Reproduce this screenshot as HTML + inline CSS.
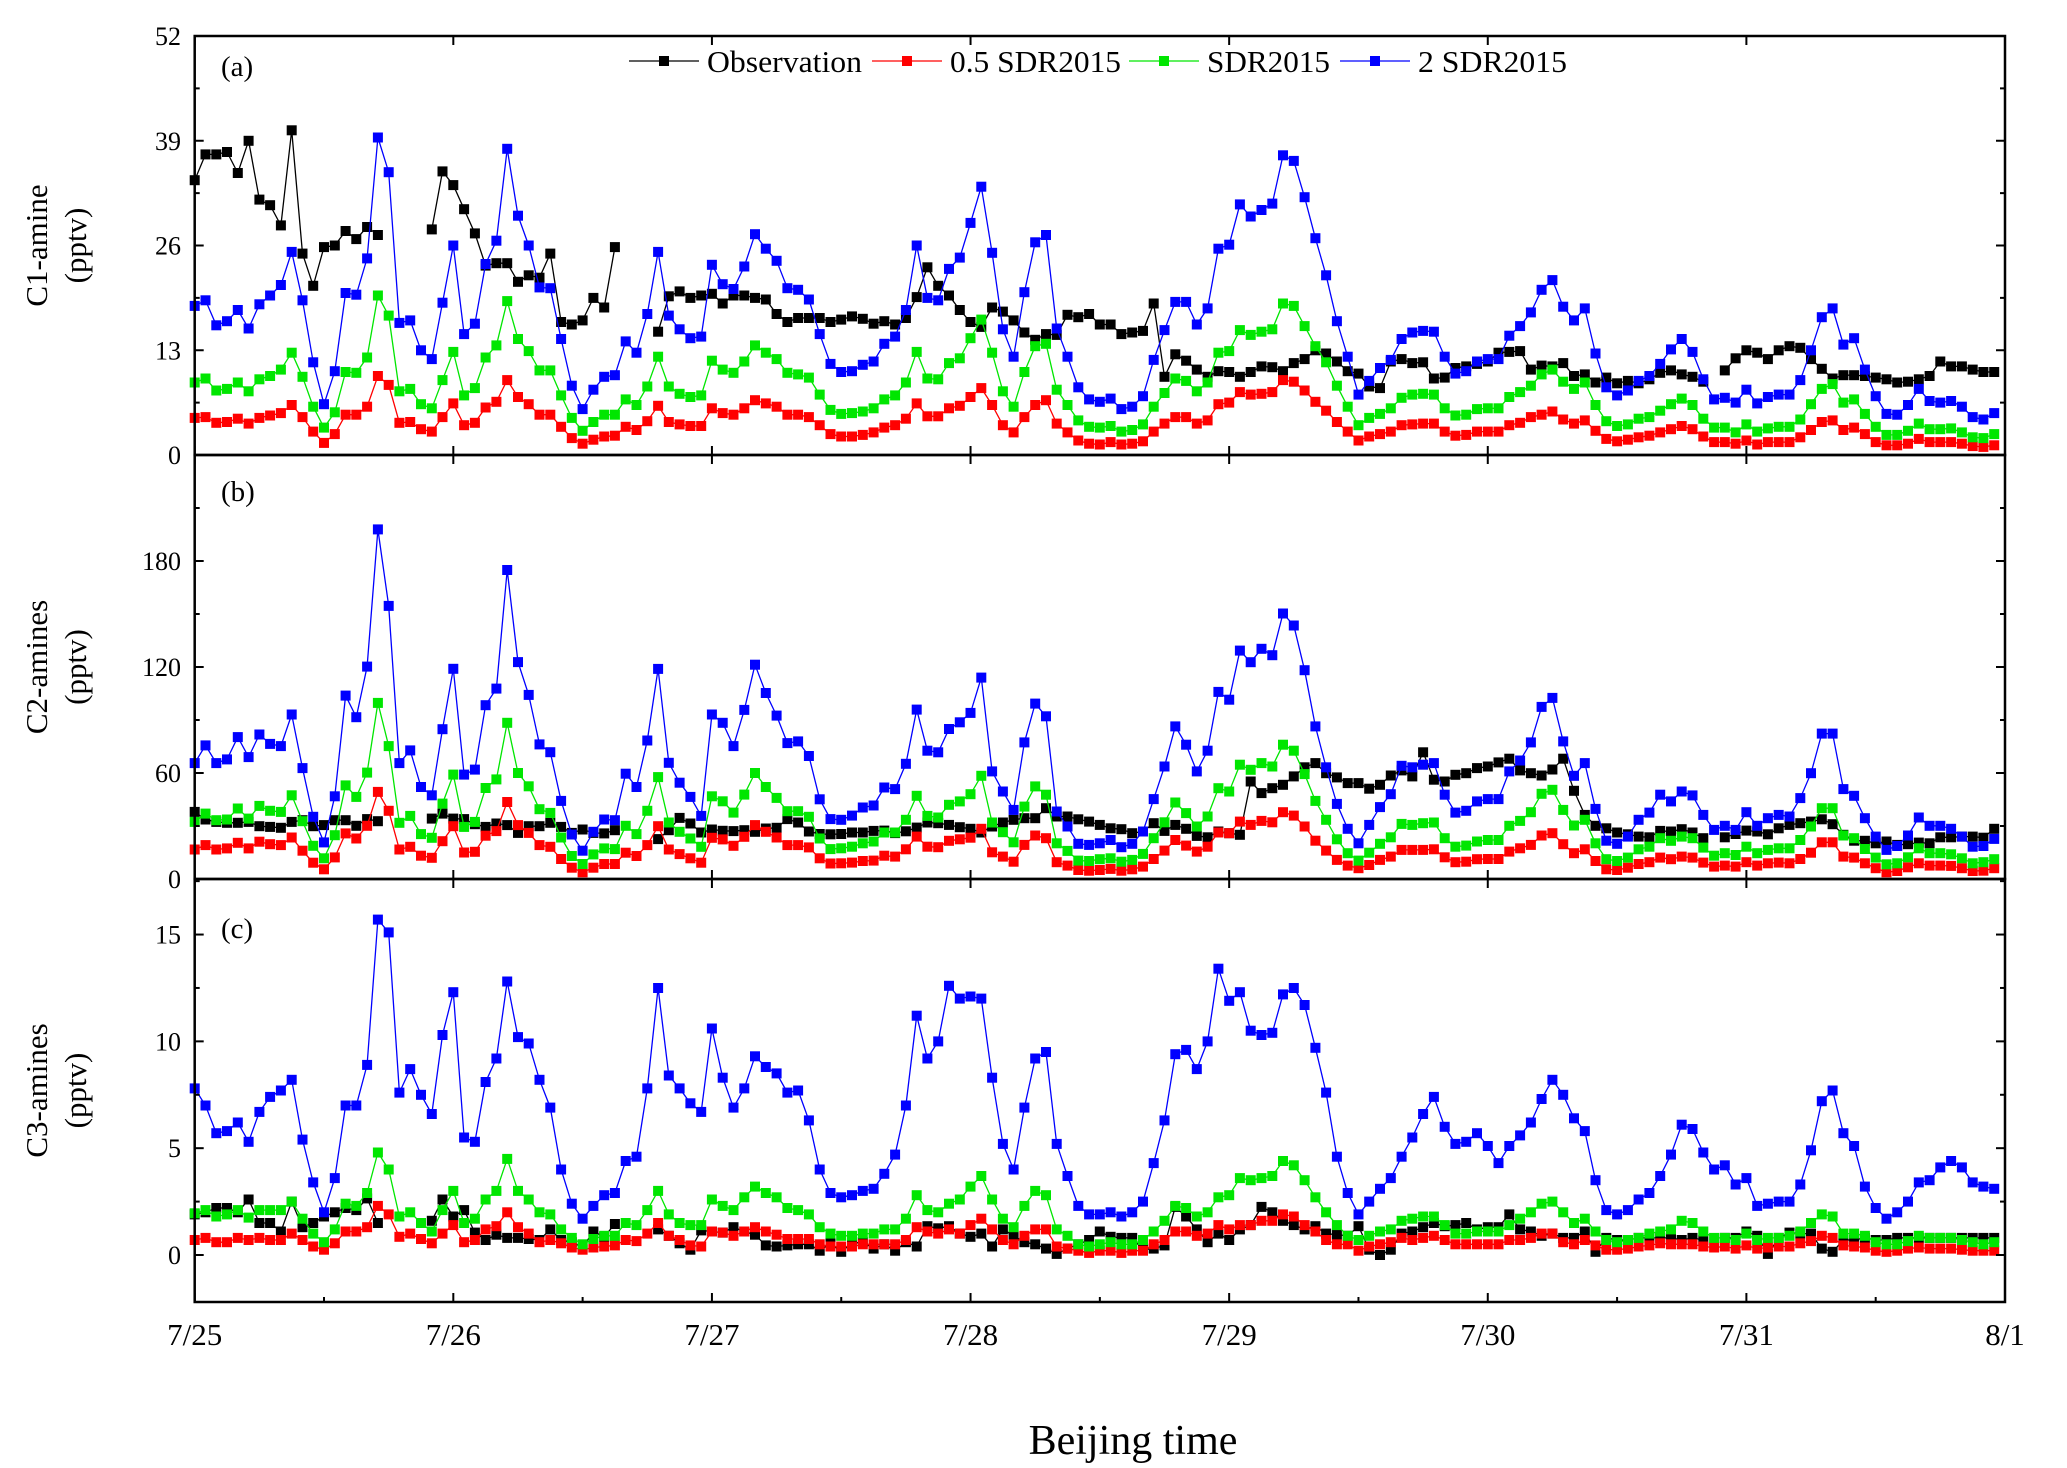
<!DOCTYPE html>
<html>
<head>
<meta charset="utf-8">
<style>
html,body{margin:0;padding:0;background:#fff;}
svg{display:block;}
text{font-family:"Liberation Serif","Times New Roman",serif;fill:#000;}
</style>
</head>
<body>
<svg id="chart" xmlns="http://www.w3.org/2000/svg" width="2067" height="1468" viewBox="0 0 2067 1468"></svg>
<script>
// ---------- DATA (hourly, starting 7/25 00:00) ----------
const N=null;
const dayLabels=["7/25","7/26","7/27","7/28","7/29","7/30","7/31","8/1"];
const seriesNames=["Observation","0.5 SDR2015","SDR2015","2 SDR2015"];
const ticksA=[0,13,26,39,52];
const ticksB=[0,60,120,180];
const ticksC=[0,5,10,15];

const aObs=[34.1,37.3,37.3,37.6,35,39,31.7,31,28.5,40.3,25,21,25.8,26,27.8,26.8,28.3,27.3,N,N,N,N,
28,35.2,33.5,30.5,27.5,23.5,23.8,23.8,21.5,22.3,22,25,16.5,16.2,16.7,19.5,18.3,25.8,N,N,N,
15.3,19.7,20.3,19.5,19.8,20,18.8,19.8,19.8,19.5,19.3,17.5,16.5,17,17,17,16.5,
16.8,17.2,16.9,16.3,16.6,16.2,17,19.6,23.3,21,19.8,18,16.5,15.9,18.3,17.8,16.7,15.2,14.3,15,14.9,17.4,17.1,17.5,16.2,16.2,15,15.2,15.4,18.8,9.7,12.5,11.7,10.6,9.7,10.4,10.3,9.7,10.3,11,10.9,10.4,11.4,11.9,13,12.6,11.6,10.4,10.1,8.5,8.3,11.6,11.9,11.4,11.5,9.5,9.6,10.8,11,11.3,11.6,12.7,12.8,12.9,10.6,
11.1,11,11.4,9.8,10,9,9.6,8.9,9.2,8.9,9.4,10.2,10.5,10,9.7,9.1,N,10.5,12,13,12.7,11.9,13,13.5,13.3,11.9,10.7,9.5,9.9,9.9,9.8,9.6,9.4,9,9.1,9.4,9.8,11.6,11,11,10.6,10.3,10.3];
const aHalf=[4.6,4.7,4,4.1,4.5,3.9,4.6,4.9,5.2,6.2,4.7,2.9,1.5,2.6,5,5,6,9.8,8.7,4,4.1,3.2,2.9,4.7,6.4,3.7,4,5.9,6.6,9.3,7.2,6.3,5,5,3.5,2.1,1.4,1.9,2.3,2.4,3.5,3.1,4.2,6.1,4.1,3.8,3.6,3.6,5.8,5.2,5,5.8,6.8,6.4,6,5,5,4.7,3.7,2.6,
2.3,2.3,2.5,2.8,3.4,3.7,4.5,6.4,4.8,4.8,5.8,6.1,7.2,8.3,6.2,3.7,2.8,4.7,6.2,6.8,3.9,2.8,1.8,1.4,1.3,1.6,1.3,1.4,1.7,2.9,3.9,4.7,4.7,3.9,4.3,6.3,6.5,7.8,7.5,7.6,7.8,9.3,9.1,8,6.6,5.5,4.1,2.9,1.8,2.3,2.6,2.9,3.7,3.8,3.9,3.9,2.9,2.4,2.5,2.9,2.9,2.9,3.7,4,4.7,
5,5.4,4.4,3.9,4.3,3,2,1.7,1.9,2.2,2.4,2.8,3.2,3.6,3.2,2.3,1.6,1.6,1.4,1.8,1.3,1.6,1.6,1.6,2.2,3.1,4.1,4.3,3.1,3.4,2.6,1.6,1.2,1.2,1.4,2,1.6,1.6,1.6,1.4,1.1,1,1.2];
const aBase=[9,9.5,8,8.2,9,7.9,9.4,9.8,10.6,12.7,9.7,6,3.4,5.3,10.3,10.2,12.1,19.8,17.3,7.9,8.2,6.3,5.8,9.3,12.8,7.4,8.3,12.1,13.6,19.1,14.4,12.9,10.5,10.5,7.4,4.6,3,4.1,5,5,6.9,6.2,8.5,12.2,8.5,7.6,7.2,7.4,11.7,10.6,10.2,11.6,13.6,12.7,11.9,10.2,10,9.6,7.5,5.6,
5.1,5.2,5.4,5.8,6.9,7.4,9,12.8,9.5,9.4,11.4,12,14.5,16.8,12.7,7.9,6,10.3,13.5,13.8,8.1,6.2,4.3,3.5,3.4,3.6,2.9,3.1,3.8,6,7.7,9.5,9.2,7.9,9,12.7,12.9,15.5,14.9,15.3,15.6,18.8,18.5,16,13.5,11.5,8.6,6,3.7,4.6,5.1,5.8,7.1,7.5,7.6,7.5,5.8,4.9,5,5.7,5.8,5.8,7.2,7.8,8.6,
10,10.6,9.1,8.2,9,6.2,4.2,3.6,3.8,4.5,4.7,5.5,6.3,7,6.2,4.5,3.4,3.4,2.8,3.8,2.9,3.3,3.5,3.5,4.4,6.3,8.2,8.8,6.5,6.9,5.1,3.5,2.5,2.5,3,3.9,3.2,3.2,3.3,2.8,2.2,2.1,2.6];
const aDouble=[18.5,19.2,16.1,16.6,18,15.7,18.7,19.8,21.1,25.2,19.2,11.5,6.3,10.4,20.1,19.9,24.4,39.4,35.1,16.4,16.7,13,11.9,18.9,26,15,16.3,23.7,26.6,38,29.7,26,20.8,20.7,14.4,8.6,5.7,8.1,9.7,9.9,14.1,12.7,17.5,25.2,17.3,15.6,14.5,14.7,23.6,21.2,20.6,23.4,27.4,25.6,24.1,20.7,20.5,19.3,15,11.3,
10.3,10.4,11.2,11.6,13.8,14.7,18,26,19.5,19.2,23.1,24.5,28.8,33.3,25.1,15.6,12.2,20.2,26.4,27.3,15.7,12.2,8.4,6.9,6.6,7,5.7,6,7.3,11.8,15.5,19,19,16.2,18.2,25.6,26.1,31.1,29.6,30.4,31.2,37.2,36.5,32,26.9,22.3,16.6,12.2,7.5,9.2,10.8,11.8,14.4,15.2,15.4,15.3,12.2,10.1,10.4,11.6,11.9,11.9,14.8,16,17.7,
20.5,21.7,18.4,16.7,18.2,12.6,8.4,7.4,8,9.2,9.8,11.3,13.1,14.4,12.8,9.4,6.9,7.1,6.5,8.1,6.4,7.2,7.5,7.5,9.3,13,17.1,18.2,13.7,14.5,10.6,7.3,5.1,5,6.2,8.2,6.7,6.5,6.7,6,4.7,4.4,5.2];

const bObs=[38,33.7,32.3,31.8,31.8,32.3,29.9,29.5,29,32.3,33.3,29.9,30.5,33.3,33.3,30.1,33.9,32.7,N,N,N,N,
34.2,37,34.2,33.9,31,29.5,31.4,30.5,26.1,29.9,29.9,31.8,29.5,26.1,28,26.1,25.8,27.6,N,N,N,
22.6,27.6,34.6,31.4,26.3,28,27.3,27.1,27.6,26.7,28.6,29,33.9,32,26.9,25.5,25.3,
25.5,26.3,26.3,27.2,27.4,26,27,29.1,32,31.6,30.6,29.3,28.4,26.3,29.7,32,33.5,34.4,34.4,40.1,35.4,35.4,33.8,32.5,30.6,28.7,28.2,25.9,26.9,31.6,27.2,30.6,28.4,24.4,23.6,26.9,25.9,25,55.2,48.6,51.4,53.3,58.1,63.2,65.6,59.9,57.5,54.3,54.3,51.1,53.3,58.6,61.5,58.1,71.7,56.2,55.2,59,59.9,62.8,63.7,66,68.1,61.5,59.9,
58.6,62,68.1,49.9,36.3,30.1,28.7,26.3,25.3,24,23.6,27.2,26.9,28.2,26.3,23.1,N,23.6,25.5,27.4,26.9,25.3,28.7,30.6,31.6,32.5,33.8,31,25,21.7,21.6,20.2,21.2,19.3,19.7,20.6,20.2,23.6,23.6,24,24,23.4,28.4];
const bHalf=[16.7,19.2,16.7,17.3,20.5,17.3,21.1,19.7,19.2,23.5,16,9.2,5.5,12.2,25.8,22.9,30.1,49.3,38.6,16.7,18.2,13.2,12,21.4,29.9,15,15.4,24.5,27.1,43.6,30.5,26.1,19.2,18.2,11.3,6.4,3.8,6.4,8.5,8.5,14.9,13,19.2,29.9,16.7,14.1,11.7,9.2,23.3,22.4,18.8,23.9,30.5,26.7,23.5,19.2,19.2,17.9,11.7,8.8,
8.9,9.3,10.2,10.4,13.2,12.7,16.8,24,18.3,18,21.6,22.5,23.4,28.4,15.1,12.7,9.8,19.3,24.6,23.1,9.5,7.6,5.1,4.7,5.1,5.7,4.7,5.5,7,11.3,16.1,22.1,18.9,15.5,18.3,26.3,25.9,32.5,30.6,32.9,32.1,37.8,35.9,29.7,21.7,16.1,10.8,7.6,6.1,7.9,10.8,12.7,16.5,16.5,16.5,16.8,12.3,9.5,9.8,11.2,11.3,11.3,15.5,17.4,19.3,
24.6,25.9,19.7,14.6,16.8,10.2,5.5,5.1,6.4,8.5,9.5,12.1,11.2,12.7,12.1,9.3,7,7.6,7,9.5,7.6,8.9,9.3,8.9,11.3,14.9,20.8,20.8,12.7,12.1,8.9,6.1,3.8,4.5,6.6,8.9,7.6,7.6,7.4,6.1,4.5,4.7,6.1];
const bBase=[32.3,37,33.3,33.7,39.9,34.2,41.4,38.6,38,47.4,32.7,18.8,11.7,24.8,53,46.5,60.2,99.7,75.2,31.8,35.7,25.4,23.3,42.7,59.1,29.5,32.3,51.5,56.4,88.4,60,52.5,39.5,37.4,23.5,13,8.5,13.9,17.3,16.9,30.1,25.4,38.6,57.7,32,26.7,22.9,18.2,46.8,44,37.6,47.8,60,52.1,45.9,38.4,38.4,35.2,22.9,16.9,
17.4,18.3,20.2,21.2,26.3,26.3,33.5,47.1,35.7,34.8,42,43.9,48,58.4,32,26.5,20.8,41,52.4,47.7,20.2,15.9,10.4,10.2,11.2,11.7,9.8,10.8,14.2,23.1,32.1,43.3,37.3,29.7,35.4,51.4,49.5,64.7,61.8,65.6,63.7,76,72.6,59.4,44.2,33.5,22.5,14.6,10.4,14.9,19.9,23.6,31.2,30.6,31.6,32,23.1,18.3,18.9,21.2,22.1,22.1,30.1,32.9,37.8,
48.2,50.5,39.1,30.3,33.5,20.2,11.2,10.2,12.1,16.8,18.3,23.1,21.6,24,23.1,17.8,13.2,14.6,13.6,18.3,14.6,16.5,17.4,17.4,22.1,29.7,40.1,40.1,24.6,23.1,17,12.1,8.3,8.9,12.3,17.4,14.6,14.6,14,11.7,8.9,9.5,11.2];
const bDouble=[65.6,75.6,65.6,67.7,80.3,69,81.8,76.5,75.2,93.1,62.8,35.2,20.7,46.8,103.8,91.6,120.2,197.9,154.6,65.6,72.8,52.1,47.4,84.8,119,59.1,61.9,98.4,107.8,174.9,122.8,104.2,76.2,71.8,44.2,25.2,16,26.7,33.7,33.3,59.6,52.1,78.4,118.9,65.8,54.5,46.5,35.7,93.1,88.4,75.2,95.7,121.3,105.3,92.5,76.9,77.9,69.6,45.1,33.9,
33.5,35.9,40.5,41.6,51.8,50.9,65.2,95.9,72.6,71.7,84.9,88.7,94,114,60.9,49.5,39.1,77.3,99.3,92.1,38.2,29.7,19.9,19.3,20.2,22.1,18,19.9,26.9,45.2,63.7,86.4,76,60.9,72.6,105.9,101.5,129.3,122.7,130.3,126.7,150.3,143.5,118.2,86.4,63.2,42.5,28.4,20.2,30.6,40.7,48,64.1,63.2,64.7,65.6,47.7,37.6,38.6,43.9,45.2,45.2,60.9,67.1,77.3,
97.4,102.5,77.9,58.4,65.6,39.7,21.7,19.9,24,33.5,37.6,47.7,43.9,49.5,47.3,36.3,27.8,30.1,27.8,37.8,30.1,34.4,36.3,35.4,45.8,59.9,82.3,82.3,50.9,47.1,34.4,24,16.5,18.7,24.6,34.8,30.1,30.1,28.4,24,18.3,18.7,22.7];

const cObs=[1.9,2,2.2,2.2,2,2.6,1.5,1.5,1.1,2.5,1.3,1.5,1.8,2,2.2,2.1,2.65,1.5,N,N,N,N,
1.6,2.6,1.8,2.1,1.05,0.7,0.95,0.8,0.8,0.75,0.7,1.2,0.7,0.6,0.35,1.1,0.85,1.45,N,N,N,
1.2,0.9,0.55,0.25,1.15,1.1,1.05,1.3,1.1,0.95,0.45,0.4,0.45,0.5,0.5,0.2,0.55,
0.15,0.55,0.6,0.3,0.5,0.2,0.6,0.4,1.35,1.25,1.35,1,0.85,1,0.4,1.2,0.9,0.6,0.5,0.3,0.05,0.3,0.5,0.7,1.1,0.85,0.8,0.8,0.25,0.3,0.45,2.25,1.8,1.2,0.6,1,0.7,1.2,1.4,2.25,2,1.6,1.4,1.2,1.35,1,0.95,0.9,1.35,0.25,0,0.25,1,1.1,1.3,1.5,1.35,1.4,1.5,1.2,1.3,1.3,1.9,1.2,1.1,
0.9,1,0.8,0.8,1.1,0.15,0.8,0.7,0.7,0.8,0.8,0.8,0.8,0.7,0.8,0.7,N,0.8,0.8,1.1,0.9,0.05,0.8,1.05,1,1,0.3,0.15,0.7,0.7,0.8,0.7,0.7,0.8,0.8,0.8,0.8,0.8,0.8,0.8,0.8,0.8,0.8];
const cHalf=[0.7,0.8,0.6,0.6,0.8,0.7,0.8,0.7,0.7,1,0.7,0.4,0.25,0.55,1.1,1.1,1.3,2.3,1.9,0.85,1,0.75,0.55,1,1.4,0.6,0.7,1.2,1.35,2,1.3,1,0.6,0.7,0.55,0.35,0.25,0.35,0.4,0.45,0.7,0.65,1,1.5,0.9,0.7,0.45,0.4,1.1,1.05,0.9,1.1,1.3,1.1,0.95,0.75,0.75,0.75,0.5,0.4,
0.4,0.4,0.5,0.5,0.5,0.5,0.7,1.3,1.1,1,1.2,1,1.4,1.7,1.2,0.7,0.5,0.9,1.2,1.2,0.4,0.3,0.2,0.1,0.2,0.2,0.1,0.2,0.2,0.5,0.7,1.1,1.1,0.9,1,1.4,1.2,1.4,1.4,1.6,1.6,1.9,1.8,1.4,1.1,0.7,0.5,0.5,0.2,0.4,0.5,0.6,0.8,0.7,0.8,0.9,0.7,0.5,0.5,0.5,0.5,0.5,0.7,0.7,0.8,
1,1,0.6,0.5,0.7,0.45,0.25,0.25,0.3,0.4,0.45,0.55,0.5,0.5,0.5,0.4,0.35,0.4,0.3,0.45,0.3,0.35,0.4,0.4,0.55,0.65,0.9,0.8,0.45,0.4,0.35,0.2,0.15,0.2,0.3,0.35,0.3,0.3,0.3,0.25,0.2,0.2,0.2];
const cBase=[1.95,2.1,1.8,1.9,2.1,1.75,2.1,2.1,2.1,2.5,1.7,1,0.6,1.2,2.4,2.3,2.9,4.8,4,1.8,2,1.5,1.1,2.1,3,1.5,1.7,2.6,3,4.5,3,2.6,2,1.9,1.2,0.8,0.5,0.75,0.9,0.9,1.5,1.4,2.1,3,1.9,1.5,1.4,1.4,2.6,2.3,2.1,2.7,3.2,2.9,2.7,2.2,2.1,1.9,1.3,1,
0.9,0.9,1,1,1.2,1.2,1.7,2.8,2.1,2,2.4,2.6,3.2,3.7,2.6,1.7,1.3,2.3,3,2.8,1.2,0.9,0.5,0.4,0.5,0.6,0.5,0.5,0.7,1.1,1.6,2.3,2.2,1.8,2,2.7,2.8,3.6,3.5,3.6,3.7,4.4,4.2,3.5,2.7,2,1.4,0.9,0.7,0.9,1.1,1.2,1.6,1.7,1.8,1.8,1.4,1,1,1.1,1.1,1.1,1.4,1.7,2,
2.4,2.5,2,1.5,1.7,1.1,0.7,0.6,0.7,0.8,1,1.1,1.2,1.6,1.5,1.1,0.8,0.8,0.7,1,0.7,0.8,0.8,0.9,1.1,1.5,1.9,1.8,1,1,0.9,0.6,0.5,0.5,0.65,0.9,0.8,0.8,0.8,0.7,0.6,0.5,0.6];
const cDouble=[7.8,7,5.7,5.8,6.2,5.3,6.7,7.4,7.7,8.2,5.4,3.4,2,3.6,7,7,8.9,15.7,15.1,7.6,8.7,7.5,6.6,10.3,12.3,5.5,5.3,8.1,9.2,12.8,10.2,9.9,8.2,6.9,4,2.4,1.7,2.3,2.8,2.9,4.4,4.6,7.8,12.5,8.4,7.8,7.1,6.7,10.6,8.3,6.9,7.8,9.3,8.8,8.5,7.6,7.7,6.3,4,2.9,
2.7,2.8,3,3.1,3.8,4.7,7,11.2,9.2,10,12.6,12,12.1,12,8.3,5.2,4,6.9,9.2,9.5,5.2,3.7,2.3,1.9,1.9,2,1.8,2,2.5,4.3,6.3,9.4,9.6,8.7,10,13.4,11.9,12.3,10.5,10.3,10.4,12.2,12.5,11.7,9.7,7.6,4.6,2.9,1.9,2.5,3.1,3.6,4.6,5.5,6.6,7.4,6,5.2,5.3,5.7,5.1,4.3,5.1,5.6,6.2,
7.3,8.2,7.5,6.4,5.8,3.5,2.1,1.9,2.1,2.6,2.9,3.7,4.7,6.1,5.9,4.8,4,4.2,3.3,3.6,2.3,2.4,2.5,2.5,3.3,4.9,7.2,7.7,5.7,5.1,3.2,2.2,1.7,2,2.5,3.4,3.5,4.1,4.4,4.1,3.4,3.2,3.1];

// ---------- LAYOUT ----------
const NS="http://www.w3.org/2000/svg";
const svg=document.getElementById("chart");
const X0=194.7, X1=2005, HOURS=168;
function xs(i){return X0+i*(X1-X0)/HOURS;}
const colors=["#000000","#ff0000","#00e600","#0000ff"];
const panels=[
 {key:"a",top:36,bottom:455,min:0,max:52,ticks:ticksA,minorStep:6.5,label:"C1-amine",tag:"(a)",series:[aObs,aHalf,aBase,aDouble]},
 {key:"b",top:455,bottom:879,min:0,max:240,ticks:ticksB,minorStep:30,label:"C2-amines",tag:"(b)",series:[bObs,bHalf,bBase,bDouble]},
 {key:"c",top:879,bottom:1302,min:-2.2,max:17.6,ticks:ticksC,minorStep:2.5,label:"C3-amines",tag:"(c)",series:[cObs,cHalf,cBase,cDouble]}
];
function mk(tag,attrs,parent){const e=document.createElementNS(NS,tag);for(const k in attrs)e.setAttribute(k,attrs[k]);(parent||svg).appendChild(e);return e;}

panels.forEach(function(p){
  const ys=function(v){return p.bottom-(v-p.min)/(p.max-p.min)*(p.bottom-p.top);};
  const g=mk("g",{});
  
  
  p.series.forEach(function(arr,si){
    const sg=mk("g",{},g);
    
    
    let d="",pen=false;
    arr.forEach(function(v,i){
      if(v===null||v===undefined){pen=false;return;}
      d+=(pen?"L":"M")+xs(i).toFixed(1)+" "+ys(v).toFixed(1);pen=true;
    });
    const line=mk("path",{d:d,fill:"none",stroke:colors[si],"stroke-width":1.3},sg);
    
    
    arr.forEach(function(v,i){
      if(v===null||v===undefined)return;
      const r=mk("rect",{x:(xs(i)-5).toFixed(1),y:(ys(v)-5).toFixed(1),width:10,height:10,fill:colors[si]},sg);
      
      
    });
  });
  const fr=mk("rect",{x:X0,y:p.top,width:X1-X0,height:p.bottom-p.top,fill:"none",stroke:"#000","stroke-width":2.5},g);
  
  
  const yMinorStart=Math.ceil(p.min/p.minorStep)*p.minorStep;
  for(let v=yMinorStart; v<=p.max+1e-6; v+=p.minorStep){
    const yy=ys(v);
    if(yy<p.top-0.5||yy>p.bottom+0.5)continue;
    const major=p.ticks.indexOf(Math.round(v*10)/10)>=0||Math.abs(v-p.max)<1e-6&&p.key!=="c";
    const len=major?9:5;
    const t1=mk("line",{x1:X0,x2:X0+len,y1:yy,y2:yy,stroke:"#000","stroke-width":2},g);
    
    
    const t2=mk("line",{x1:X1,x2:X1-len,y1:yy,y2:yy,stroke:"#000","stroke-width":2},g);
    
    
  }
  p.ticks.forEach(function(v){
    const t=mk("text",{x:181,y:ys(v)+9,"text-anchor":"end","font-size":26},g);
    t.textContent=String(v);
    
    
  });
  for(let h=0; h<=HOURS; h+=12){
    const major=(h%24===0);
    const isBottomC=(p.key==="c");
    if(!major&&!isBottomC)continue;
    const xx=xs(h);
    if(major){
      const tt=mk("line",{x1:xx,x2:xx,y1:p.top,y2:p.top+9,stroke:"#000","stroke-width":2},g);
      
      
    }
    const len=major?9:5;
    const tb=mk("line",{x1:xx,x2:xx,y1:p.bottom,y2:p.bottom-len,stroke:"#000","stroke-width":2},g);
    
    
  }
  const tg=mk("text",{x:221,y:p.top+(p.key==="a"?40:p.key==="b"?46:59),"font-size":29},g);
  tg.textContent=p.tag;
  
  
  const cy=(p.top+p.bottom)/2;
  const yt=mk("text",{x:0,y:0,"font-size":31,"text-anchor":"middle",transform:"translate(47,"+cy+") rotate(-90)"},g);
  yt.textContent=p.label;
  
  
  const yu=mk("text",{x:0,y:0,"font-size":31,"text-anchor":"middle",transform:"translate(86,"+cy+") rotate(-90)"},g);
  yu.textContent="(pptv)";
  
  
});

dayLabels.forEach(function(lbl,k){
  const t=mk("text",{x:xs(k*24),y:1345,"text-anchor":"middle","font-size":31});
  t.textContent=lbl;
  
  
});
const xt=mk("text",{x:1133,y:1454,"text-anchor":"middle","font-size":42});
xt.textContent="Beijing time";



const legX=[629,872,1129,1340];
const legTextW=[155,171,123,149];
const lg=mk("g",{});


seriesNames.forEach(function(nm,si){
  const eg=mk("g",{},lg);
  
  
  const x=legX[si];
  const ln=mk("line",{x1:x,x2:x+70,y1:61,y2:61,stroke:colors[si],"stroke-width":1.3},eg);
  
  
  const sq=mk("rect",{x:x+30,y:56,width:10,height:10,fill:colors[si]},eg);
  
  
  const tx=mk("text",{x:x+78,y:72,"font-size":31,textLength:legTextW[si],lengthAdjust:"spacingAndGlyphs"},eg);
  tx.textContent=nm;
  
  
});
</script>
</body>
</html>
